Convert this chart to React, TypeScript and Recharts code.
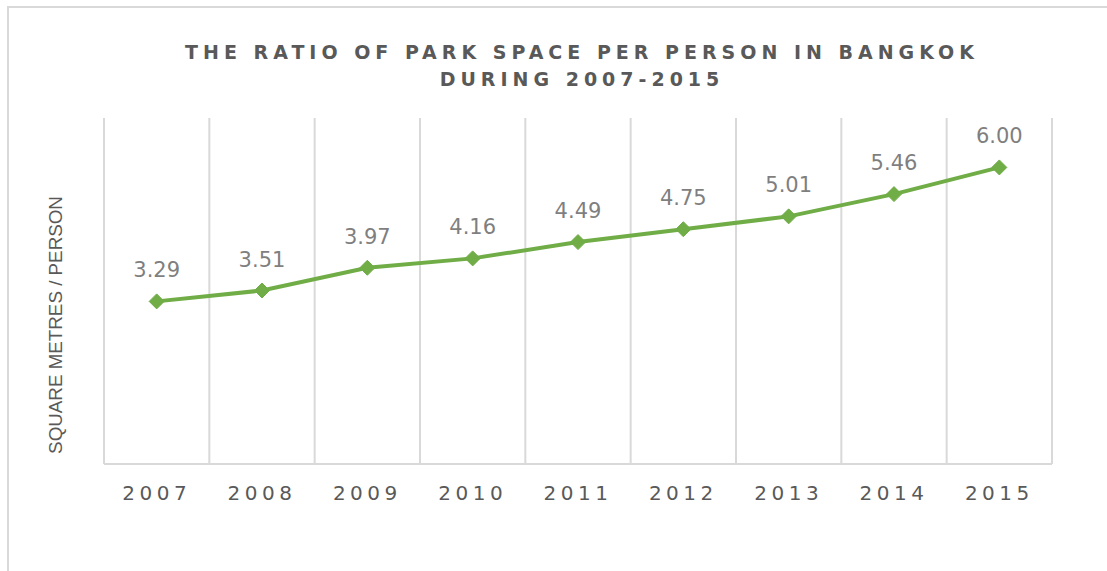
import React from 'react';
import { LineChart, Line, XAxis, YAxis, CartesianGrid, LabelList } from 'recharts';

const years = ['2007', '2008', '2009', '2010', '2011', '2012', '2013', '2014', '2015'];
const ratio = [3.29, 3.51, 3.97, 4.16, 4.49, 4.75, 5.01, 5.46, 6.0];
const titleLines = ['THE RATIO OF PARK SPACE PER PERSON IN BANGKOK', 'DURING 2007-2015'];
const yAxisTitle = 'SQUARE METRES / PERSON';

const data = years.map((year, i) => ({ year, ratio: ratio[i] }));

const W = 1107;
const H = 571;
const GREEN = '#70AD47';
const GRID = '#d9d9d9';

const Diamond = (props: any) => {
  const { cx, cy } = props;
  if (cx == null || cy == null) return null;
  const r = 7.5;
  return (
    <polygon
      points={`${cx},${cy - r} ${cx + r},${cy} ${cx},${cy + r} ${cx - r},${cy}`}
      fill={GREEN}
      stroke={GREEN}
      strokeWidth={1}
    />
  );
};

const gridGen = ({ offset }: any) => {
  const n = years.length;
  const out: number[] = [];
  for (let i = 0; i <= n; i++) out.push(offset.left + (i * offset.width) / n);
  return out;
};

export default function App() {
  return (
    <div style={{ position: 'absolute', left: 0, top: 0, width: W, height: H, overflow: 'hidden', background: '#fff' }}>
      <div
        style={{
          position: 'absolute',
          left: 7,
          top: 6,
          width: 1140,
          height: 620,
          border: '2px solid #d9d9d9',
          boxSizing: 'border-box',
        }}
      />
      <div style={{ position: 'absolute', left: 0, top: 0 }}>
        <LineChart width={W} height={H} data={data} margin={{ top: 118, right: 55, bottom: 77, left: 104 }}>
          <CartesianGrid horizontal={false} vertical stroke={GRID} strokeWidth={2} verticalCoordinatesGenerator={gridGen} />
          <XAxis
            dataKey="year"
            scale="band"
            height={30}
            axisLine={{ stroke: GRID, strokeWidth: 2 }}
            tickLine={false}
            tickSize={6}
            tickMargin={16}
            interval={0}
            tick={{ fill: '#595959', fontSize: 20, fontFamily: 'DejaVu Sans', letterSpacing: 4.5 }}
          />
          <YAxis hide width={0} domain={[0, 7]} />
          <Line
            type="linear"
            dataKey="ratio"
            stroke={GREEN}
            strokeWidth={4}
            dot={<Diamond />}
            activeDot={false}
            isAnimationActive={false}
          >
            <LabelList
              dataKey="ratio"
              position="top"
              offset={24}
              formatter={(v: any) => Number(v).toFixed(2)}
              fill="#7f7f7f"
              fontSize={21}
              fontFamily="DejaVu Sans"
            />
          </Line>
        </LineChart>
      </div>
      <svg width={W} height={H} style={{ position: 'absolute', left: 0, top: 0, pointerEvents: 'none' }}>
        {titleLines.map((t, i) => (
          <text
            key={i}
            x={582}
            y={59 + i * 27}
            textAnchor="middle"
            fill="#595959"
            fontSize={19}
            fontWeight="bold"
            fontFamily="DejaVu Sans"
            letterSpacing={5}
          >
            {t}
          </text>
        ))}
        <text
          x={0}
          y={0}
          transform="translate(62,325) rotate(-90)"
          textAnchor="middle"
          fill="#595959"
          fontSize={18.8}
          fontFamily="Liberation Sans"
        >
          {yAxisTitle}
        </text>
      </svg>
    </div>
  );
}
